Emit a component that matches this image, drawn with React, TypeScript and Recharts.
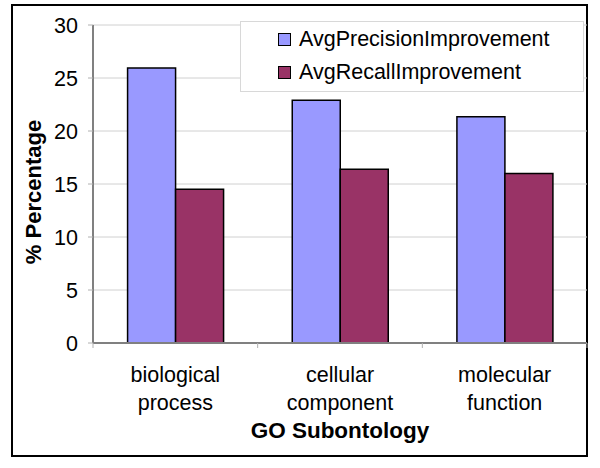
import React from "react";
import { BarChart, Bar, XAxis, YAxis, CartesianGrid, Label } from "recharts";

const categories: string[][] = [
  ["biological", "process"],
  ["cellular", "component"],
  ["molecular", "function"],
];
const precision: number[] = [25.95, 22.9, 21.35];
const recall: number[] = [14.5, 16.4, 16.0];
const yTicks: number[] = [0, 5, 10, 15, 20, 25, 30];
const seriesNames = ["AvgPrecisionImprovement", "AvgRecallImprovement"];
const colors = ["#9999FF", "#993366"];

const data = categories.map((c, i) => ({
  name: c.join(" "),
  lines: c,
  p: precision[i],
  r: recall[i],
}));

const FONT = "'Liberation Sans', Arial, sans-serif";

const XTick = (props: any) => {
  const { x, y, payload, index } = props;
  const lines: string[] = data[index]?.lines ?? [String(payload.value)];
  const off = payload.offset ?? 0;
  return (
    <g>
      <line x1={x - off} x2={x - off} y1={y - 8} y2={y - 3} stroke="#b0b0b0" />
      {index === data.length - 1 && (
        <line x1={x + off} x2={x + off} y1={y - 8} y2={y - 3} stroke="#b0b0b0" />
      )}
      {lines.map((l, i) => (
        <text
          key={i}
          x={x}
          y={y + 31 + i * 28}
          textAnchor="middle"
          fontFamily={FONT}
          fontSize={21.5}
          fill="#000"
        >
          {l}
        </text>
      ))}
    </g>
  );
};

const LegendBox = () => (
  <div
    style={{
      position: "absolute",
      left: 240,
      top: 21,
      width: 344,
      height: 71,
      boxSizing: "border-box",
      border: "1px solid #d8d8d8",
      background: "#fff",
      fontFamily: FONT,
      fontSize: 21.5,
    }}
  >
    {seriesNames.map((n, i) => (
      <div
        key={n}
        style={{
          position: "absolute",
          left: 37,
          top: 4 + i * 33,
          height: 26,
          display: "flex",
          alignItems: "center",
          whiteSpace: "nowrap",
          color: "#000",
        }}
      >
        <span
          style={{
            display: "inline-block",
            width: 11,
            height: 11,
            background: colors[i],
            border: "1.5px solid #000",
            marginRight: 8,
          }}
        />
        {n}
      </div>
    ))}
  </div>
);

export default function App() {
  return (
    <div style={{ position: "absolute", left: 0, top: 0, width: 600, height: 468, background: "#fff" }}>
      <div
        style={{
          position: "absolute",
          left: 11,
          top: 4,
          width: 577,
          height: 453,
          boxSizing: "border-box",
          border: "2px solid #000",
        }}
      />
      <div style={{ position: "absolute", left: 0, top: 0 }}>
        <BarChart
          width={600}
          height={468}
          data={data}
          margin={{ top: 25, right: 13, left: 0, bottom: 0 }}
          barCategoryGap="21%"
          barGap={0}
        >
          <CartesianGrid vertical={false} stroke="#d0d0d0" />
          <XAxis
            dataKey="name"
            height={125}
            tick={<XTick />}
            tickLine={false}
            axisLine={{ stroke: "#808080", strokeWidth: 2 }}
            interval={0}
          >
            <Label
              content={(p: any) => {
                const vb = p.viewBox;
                return (
                  <text
                    x={vb.x + vb.width / 2}
                    y={vb.y + 95}
                    textAnchor="middle"
                    fontFamily={FONT}
                    fontSize={22.5}
                    fontWeight="bold"
                    fill="#000"
                  >
                    GO Subontology
                  </text>
                );
              }}
            />
          </XAxis>
          <YAxis
            width={93}
            domain={[0, 30]}
            ticks={yTicks}
            interval={0}
            tickSize={5}
            tickMargin={10}
            tickLine={{ stroke: "#b0b0b0" }}
            axisLine={{ stroke: "#808080", strokeWidth: 2 }}
            tick={{ fontFamily: FONT, fontSize: 21.5, fill: "#000" }}
          >
            <Label
              content={(p: any) => {
                const vb = p.viewBox;
                const cy = vb.y + vb.height / 2 + 8;
                return (
                  <text
                    x={41}
                    y={cy}
                    transform={`rotate(-90 41 ${cy})`}
                    textAnchor="middle"
                    fontFamily={FONT}
                    fontSize={22}
                    fontWeight="bold"
                    fill="#000"
                  >
                    % Percentage
                  </text>
                );
              }}
            />
          </YAxis>
          <Bar dataKey="p" name={seriesNames[0]} fill={colors[0]} stroke="#000" strokeWidth={1.5} isAnimationActive={false} />
          <Bar dataKey="r" name={seriesNames[1]} fill={colors[1]} stroke="#000" strokeWidth={1.5} isAnimationActive={false} />
        </BarChart>
      </div>
      <LegendBox />
    </div>
  );
}
